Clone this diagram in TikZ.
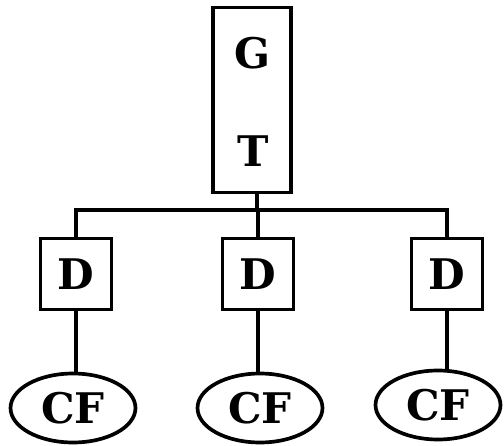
\documentclass[tikz,border=0pt]{standalone}
\usepackage{fontspec}
\setmainfont{DejaVu Serif}
\usetikzlibrary{shapes.geometric}

\begin{document}
\begin{tikzpicture}[x=0.02cm, y=-0.02cm, line width=2.1pt,
    lbl/.style={font=\fontsize{24}{26}\selectfont\bfseries},
    dbox/.style={draw, lbl, minimum width=1.42cm, minimum height=1.42cm, inner sep=0pt},
    cf/.style={draw, ellipse, lbl, minimum width=2.5cm, minimum height=1.38cm, inner sep=0pt}]
  \useasboundingbox (0,0) rectangle (504,446);
  % tall box with G and T
  \node[draw, minimum width=1.56cm, minimum height=3.7cm] (gt) at (252,100) {};
  \node[lbl] (g) at (253,53) {G};
  \node[lbl] (t) at (253,151) {T};
  \coordinate (bar) at (257,210);
  % three D boxes
  \node[dbox] (d1) at (76,274) {D};
  \node[dbox] (d2) at (258,274) {D};
  \node[dbox] (d3) at (447,274) {D};
  % CF ellipses
  \node[cf] (cf1) at (73,408) {CF};
  \node[cf] (cf2) at (260,408) {CF};
  \node[cf] (cf3) at (438,405) {CF};
  % connectors
  \draw (gt.south -| bar) -- (bar);
  \draw (d1.north) -- (d1.north |- bar) -- (d3.north |- bar) -- (d3.north);
  \draw (d2.north |- bar) -- (d2.north);
  \draw (d1.south) -- (d1.south |- cf1.north);
  \draw (d2.south) -- (d2.south |- cf2.north);
  \draw (d3.south) -- (d3.south |- cf3.north);
\end{tikzpicture}
\end{document}
